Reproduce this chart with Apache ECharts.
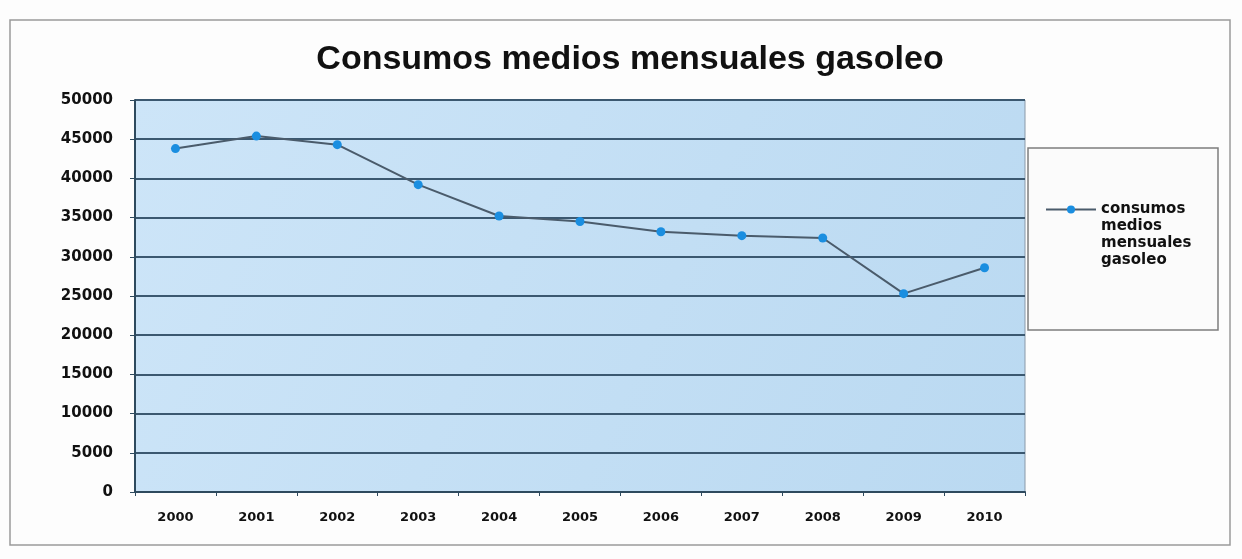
<!DOCTYPE html>
<html>
<head>
<meta charset="utf-8">
<script src="https://cdn.jsdelivr.net/npm/echarts@6/dist/echarts.min.js"></script>
<style>
  html, body { margin: 0; padding: 0; background: #fdfdfd; }
  #chart { width: 1242px; height: 559px; }
</style>
</head>
<body>
<div id="chart"></div>
<script>
// Years on the category axis
const years = ['2000', '2001', '2002', '2003', '2004', '2005', '2006', '2007', '2008', '2009', '2010'];
// Average monthly diesel consumption per year
const consumos = [43800, 45400, 44300, 39200, 35200, 34500, 33200, 32700, 32400, 25300, 28600];
// Value axis range
const yMin = 0;
const yMax = 50000;
const yStep = 5000;

const seriesName = 'consumos medios mensuales gasoleo';
const titleFont = '"Liberation Sans", Arial, sans-serif';
const labelFont = '"DejaVu Sans", sans-serif';

const chart = echarts.init(document.getElementById('chart'));
chart.setOption({
  backgroundColor: '#fdfdfd',
  animation: false,
  title: {
    text: 'Consumos medios mensuales gasoleo',
    left: 625,
    textAlign: 'center',
    top: 38,
    textStyle: { fontFamily: titleFont, fontWeight: 'bold', fontSize: 34, color: '#111' }
  },
  graphic: [
    {
      type: 'rect',
      shape: { x: 10, y: 20, width: 1220, height: 525 },
      style: { fill: 'none', stroke: '#9a9a9a', lineWidth: 1.5 },
      z: -1
    },
    {
      type: 'rect',
      shape: { x: 1028, y: 148, width: 190, height: 182 },
      style: { fill: '#fbfbfb', stroke: '#7d7d7d', lineWidth: 1.5 },
      z: 0
    }
  ],
  legend: {
    left: 1040,
    top: 145,
    orient: 'vertical',
    itemWidth: 50,
    itemHeight: 10,
    itemGap: 0,
    data: [seriesName],
    // blank lines above keep the marker level with the first text line
    formatter: () => '\n\n\nconsumos\nmedios\nmensuales\ngasoleo',
    textStyle: { fontFamily: labelFont, fontWeight: 'bold', fontSize: 15, color: '#111', lineHeight: 17 },
    z: 5
  },
  grid: {
    left: 135,
    top: 100,
    width: 890,
    height: 392,
    show: true,
    backgroundColor: new echarts.graphic.LinearGradient(0, 0, 1, 1, [
      { offset: 0, color: '#cde5f8' },
      { offset: 1, color: '#bad9f1' }
    ]),
    borderColor: '#8a99a8',
    borderWidth: 1
  },
  xAxis: {
    type: 'category',
    data: years,
    boundaryGap: true,
    axisLine: { lineStyle: { color: '#2e4a5e', width: 2 } },
    axisTick: { show: true, length: 4, lineStyle: { color: '#2e4a5e' } },
    axisLabel: { margin: 19, fontFamily: labelFont, fontWeight: 'bold', fontSize: 13, color: '#111' }
  },
  yAxis: {
    type: 'value',
    min: yMin,
    max: yMax,
    interval: yStep,
    axisLine: { show: true, lineStyle: { color: '#2e4a5e', width: 2 } },
    axisTick: { show: true, length: 5, lineStyle: { color: '#2e4a5e' } },
    axisLabel: {
      margin: 22,
      fontFamily: labelFont,
      fontWeight: 'bold',
      fontSize: 15,
      color: '#111',
      formatter: (v) => String(v)
    },
    splitLine: { show: true, lineStyle: { color: '#3b5870', width: 2 } }
  },
  series: [{
    name: seriesName,
    type: 'line',
    data: consumos,
    symbol: 'circle',
    symbolSize: 9,
    lineStyle: { color: '#4a5b6b', width: 2 },
    itemStyle: { color: '#1a8ee0' },
    z: 3
  }]
});
</script>
</body>
</html>
